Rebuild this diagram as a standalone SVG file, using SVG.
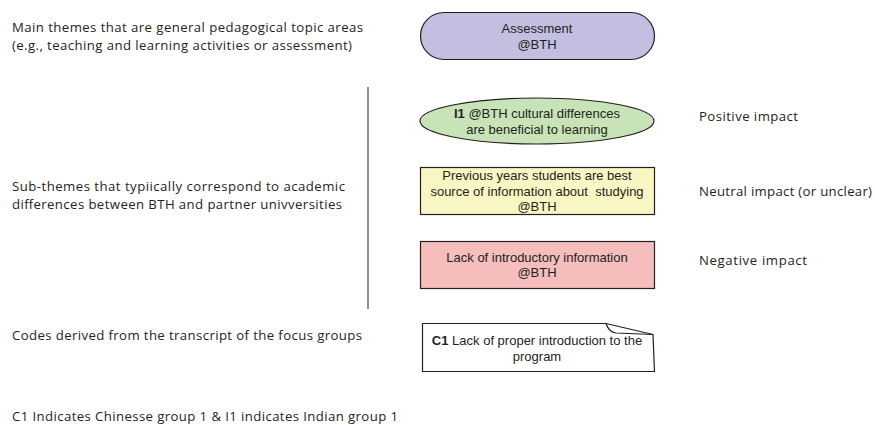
<svg xmlns="http://www.w3.org/2000/svg" width="875" height="425" viewBox="0 0 875 425">
<style>
.lbl{font-family:"Open Sans","Liberation Sans",sans-serif;font-size:13.2px;fill:#231f20}
.nt{font-family:"Liberation Sans",Arial,sans-serif;font-size:13px;fill:#231f20;text-anchor:middle}
.b{font-weight:bold}
.pre{white-space:pre}
.shape{stroke:#231f20;stroke-width:1.2}
</style>
<rect width="875" height="425" fill="#ffffff"/>
<g id="labels">
<text class="lbl" x="12" y="32" textLength="351">Main themes that are general pedagogical topic areas</text>
<text class="lbl" x="12" y="50" textLength="340">(e.g., teaching and learning activities or assessment)</text>
<text class="lbl" x="12" y="191" textLength="333">Sub-themes that typiically correspond to academic</text>
<text class="lbl" x="12" y="209" textLength="330">differences between BTH and partner univversities</text>
<text class="lbl" x="12" y="340" textLength="350">Codes derived from the transcript of the focus groups</text>
<text class="lbl" x="12" y="421" textLength="386">C1 Indicates Chinesse group 1 &amp; I1 indicates Indian group 1</text>
<text class="lbl" x="699" y="121" textLength="99">Positive impact</text>
<text class="lbl" x="699" y="196" textLength="173">Neutral impact (or unclear)</text>
<text class="lbl" x="699" y="265" textLength="108">Negative impact</text>
</g>
<g id="connectors">
<line x1="368" y1="87" x2="368" y2="309" stroke="#231f20" stroke-width="1"/>
</g>
<g id="assessment">
<rect class="shape" x="420.5" y="12.5" width="234" height="47" rx="23.5" ry="23.5" fill="#c3bfe0"/>
<text class="nt" x="537" y="33">Assessment</text>
<text class="nt" x="537" y="49">@BTH</text>
</g>
<g id="i1">
<ellipse class="shape" cx="537" cy="121" rx="117" ry="23" fill="#c8e3b8"/>
<text class="nt" x="537" y="118"><tspan class="b">I1</tspan> @BTH cultural differences</text>
<text class="nt" x="537" y="134">are beneficial to learning</text>
</g>
<g id="previous">
<rect class="shape" x="420.5" y="167.5" width="234" height="47" fill="#faf6c3"/>
<text class="nt" x="537" y="180">Previous years students are best</text>
<text class="nt pre" x="537" y="196">source of information about  studying</text>
<text class="nt" x="537" y="211">@BTH</text>
</g>
<g id="lack">
<rect class="shape" x="420.5" y="241.5" width="234" height="47" fill="#f6bdbd"/>
<text class="nt" x="537" y="262">Lack of introductory information</text>
<text class="nt" x="537" y="277">@BTH</text>
</g>
<g id="c1">
<path class="shape" d="M422.5 323.5 L606 323.5 Q609 332 616 333 L653 334.5 L654.5 371.5 L422.5 371.5 Z" fill="#ffffff"/>
<path class="shape" d="M606 323.5 L653 334.5" fill="none"/>
<text class="nt" x="537" y="345"><tspan class="b">C1</tspan> Lack of proper introduction to the</text>
<text class="nt" x="537" y="361">program</text>
</g>
</svg>
